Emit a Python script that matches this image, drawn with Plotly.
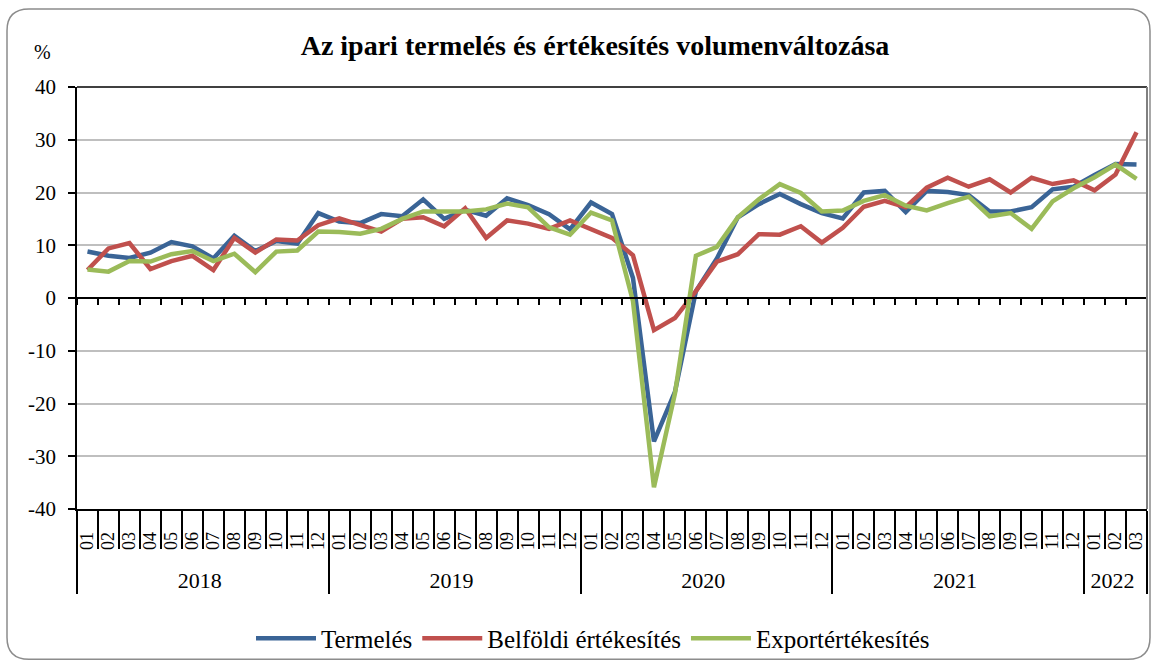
import plotly.graph_objects as go

# ---- data ----
year_labels = ["2018", "2019", "2020", "2021", "2022"]
months_per_year = [12, 12, 12, 12, 3]
month_labels = ["01", "02", "03", "04", "05", "06", "07", "08", "09", "10", "11", "12"]

termeles = [8.8, 8.0, 7.6, 8.6, 10.6, 9.8, 7.5, 11.8, 8.9, 10.8, 10.3, 16.1,
            14.5, 14.2, 15.9, 15.5, 18.7, 15.0, 16.7, 15.6, 18.9, 17.6, 15.9, 13.0,
            18.1, 15.9, 3.8, -27.2, -17.8, 1.3, 7.5, 15.3, 17.8, 19.7, 17.8, 16.1,
            15.1, 20.0, 20.3, 16.3, 20.3, 20.1, 19.5, 16.4, 16.4, 17.2, 20.6, 21.1,
            23.3, 25.4, 25.3]
belfoldi = [5.3, 9.4, 10.4, 5.5, 7.0, 8.0, 5.3, 11.4, 8.6, 11.1, 10.9, 13.8,
            15.1, 13.9, 12.6, 15.0, 15.3, 13.6, 17.0, 11.4, 14.7, 14.1, 13.1, 14.7,
            13.1, 11.4, 8.1, -6.1, -3.8, 1.3, 6.9, 8.3, 12.1, 12.0, 13.6, 10.5,
            13.3, 17.3, 18.4, 17.2, 20.9, 22.8, 21.1, 22.5, 20.0, 22.8, 21.6, 22.3,
            20.4, 23.4, 31.4]
export = [5.4, 5.0, 7.0, 6.9, 8.3, 8.9, 7.0, 8.4, 4.9, 8.8, 9.0, 12.6,
          12.5, 12.2, 13.1, 15.0, 16.4, 16.4, 16.4, 16.8, 17.9, 17.2, 13.4, 12.0,
          16.2, 14.7, -0.6, -35.9, -18.1, 8.0, 9.7, 15.3, 18.7, 21.6, 19.9, 16.4,
          16.6, 18.4, 19.5, 17.5, 16.6, 18.0, 19.2, 15.5, 16.1, 13.1, 18.3, 20.8,
          22.9, 25.3, 22.6]

y_tick_values = [40, 30, 20, 10, 0, -10, -20, -30, -40]
y_tick_labels = ["40", "30", "20", "10", "0", "-10", "-20", "-30", "-40"]

series_names = ["Termelés", "Belföldi értékesítés", "Exportértékesítés"]
series_colors = ["#3A6496", "#C0504D", "#9BBB59"]

FONT = "Liberation Serif"
NBSP = "\u00a0"

# category labels (years styled larger; months padded so the year row sits lower)
x_years, x_months, x_flat = [], [], []
for y, n in zip(year_labels, months_per_year):
    for m in month_labels[:n]:
        x_years.append(f"<span style='font-size:22px'>{y}</span>")
        x_months.append(NBSP * 4 + m)
        x_flat.append(f"{y}-{m}")

fig = go.Figure()
for name, vals, col in zip(series_names, [termeles, belfoldi, export], series_colors):
    fig.add_trace(go.Scatter(x=[x_years, x_months], y=vals, name=name, mode="lines",
                             line=dict(color=col, width=4.5)))

# invisible trace for the zero-line tick axis
fig.add_trace(go.Scatter(x=x_flat, y=[None] * len(x_flat), xaxis="x2", showlegend=False,
                         hoverinfo="skip", mode="lines"))

# pixel -> paper helpers
L, R, T, B = 77, 1147, 87, 514
W, H = 1156, 670
def px(x):
    return (x - L) / (R - L)
def py(y):
    return (B - y) / (B - T)

# rounded outer border
x0, x1, y0, y1, r = 7, 1150, 8, 666, 22
path = (f"M {px(x0 + r)},{py(y0)} L {px(x1 - r)},{py(y0)} "
        f"Q {px(x1)},{py(y0)} {px(x1)},{py(y0 + r)} "
        f"L {px(x1)},{py(y1 - r)} Q {px(x1)},{py(y1)} {px(x1 - r)},{py(y1)} "
        f"L {px(x0 + r)},{py(y1)} Q {px(x0)},{py(y1)} {px(x0)},{py(y1 - r)} "
        f"L {px(x0)},{py(y0 + r)} Q {px(x0)},{py(y0)} {px(x0 + r)},{py(y0)} Z")

fig.update_layout(
    width=W, height=H,
    margin=dict(l=L, r=W - R, t=T, b=H - B),
    paper_bgcolor="white", plot_bgcolor="white",
    font=dict(family=FONT, color="#000000", size=20),
    title=dict(text="<b>Az ipari termelés és értékesítés volumenváltozása</b>",
               xref="container", x=595 / W, xanchor="center", y=1 - 45 / H, yanchor="middle",
               font=dict(family=FONT, size=28, color="#000000")),
    showlegend=True,
    legend=dict(orientation="h", x=px(593), xanchor="center", y=py(645), yanchor="middle",
                yref="paper", font=dict(family=FONT, size=25), itemwidth=60,
                bgcolor="rgba(0,0,0,0)", tracegroupgap=0),
    xaxis=dict(type="multicategory", showgrid=False, showline=True, linecolor="#000000",
               linewidth=1.5, mirror=False, ticks="outside", ticklen=38, tickwidth=1.5,
               tickcolor="#000000", tickangle=-90, tickson="boundaries", nticks=200,
               showdividers=True, dividercolor="#000000", dividerwidth=1.5,
               ticklabelstandoff=14,
               tickfont=dict(family=FONT, size=18), range=[-0.5, 50.5]),
    xaxis2=dict(type="category", overlaying="x", anchor="free", position=0.5,
                showticklabels=False, ticks="outside", ticklen=6, tickwidth=1.5,
                tickcolor="#000000", tickson="boundaries", showline=True,
                linecolor="#000000", linewidth=1.5, showgrid=False, range=[-0.5, 50.5]),
    yaxis=dict(range=[-40, 40], tickvals=y_tick_values, ticktext=y_tick_labels,
               showgrid=True, gridcolor="#BFBFBF", gridwidth=1.5,
               zeroline=False, showline=True, linecolor="#000000", linewidth=1.5,
               ticks="outside", ticklen=7, tickwidth=1.5, tickcolor="#000000",
               ticklabelstandoff=8,
               tickfont=dict(family=FONT, size=21)),
    shapes=[
        dict(type="line", xref="paper", yref="paper", x0=0, x1=1, y0=1, y1=1,
             line=dict(color="#000000", width=1.5)),
        dict(type="line", xref="paper", yref="paper", x0=1, x1=1, y0=0, y1=1,
             line=dict(color="#808080", width=2)),
        dict(type="path", xref="paper", yref="paper", path=path,
             line=dict(color="#8C8C8C", width=1.5), layer="below"),
    ],
    annotations=[
        dict(text="%", xref="paper", yref="paper", x=px(42), y=py(52),
             xanchor="center", yanchor="middle", showarrow=False,
             font=dict(family=FONT, size=20)),
    ],
)

fig.write_html("out.html", config={"displayModeBar": False},
               post_script="document.body.style.margin='0';")
